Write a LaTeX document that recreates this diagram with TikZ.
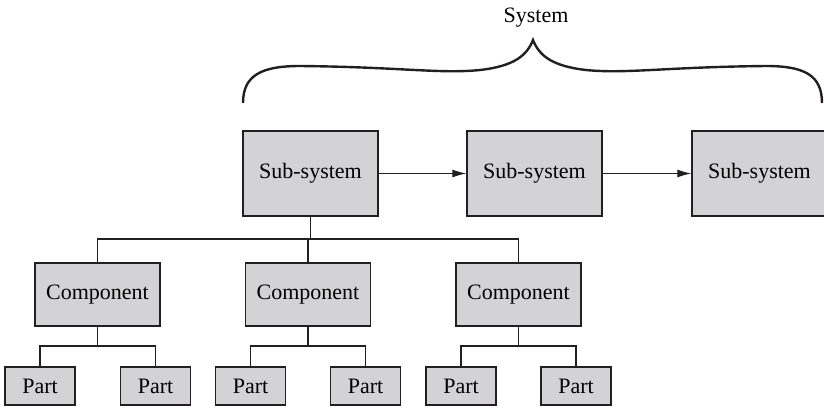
\documentclass[tikz,border=0pt]{standalone}
\usepackage{fontspec}
\setmainfont{Liberation Serif}
\usetikzlibrary{arrows.meta}
\definecolor{boxgray}{RGB}{211,211,213}
\definecolor{inkline}{RGB}{35,31,32}
\begin{document}
\begin{tikzpicture}[x=1pt,y=-1pt,
  every node/.style={font=\fontsize{22}{26}\selectfont, inner sep=0pt},
  unit/.style={draw=inkline, fill=boxgray, line width=1.3pt, rectangle},
  subsys/.style={unit, minimum width=135pt, minimum height=85pt},
  comp/.style={unit, minimum width=125pt, minimum height=63pt},
  part/.style={unit, minimum width=70pt, minimum height=38pt},
  link/.style={draw=inkline, line width=1.2pt},
  flow/.style={link, -{Latex[length=14pt,width=8pt]}}]
\useasboundingbox (0,0) rectangle (824,408);

% system level brace and label
\node (sys) at (536,18) {System};
\draw[draw=inkline, line width=2.4pt, line join=miter, miter limit=20]
  (243,103) .. controls (243,75) and (262,66) .. (300,66)
  .. controls (400,67) and (440,74) .. (480,70)
  .. controls (515,66) and (527,55) .. (533,40)
  .. controls (539,55) and (551,66) .. (586,70)
  .. controls (626,74) and (666,67) .. (766,66)
  .. controls (804,66) and (822,75) .. (822,103);

% sub-systems
\node[subsys] (s1) at (310.5,173.5) {Sub-system};
\node[subsys] (s2) at (534.5,173.5) {Sub-system};
\node[subsys] (s3) at (759.5,173.5) {Sub-system};
\draw[flow] (s1.east) -- (s2.west);
\draw[flow] (s2.east) -- (s3.west);

% components
\node[comp] (c1) at (97.5,294.5) {Component};
\node[comp] (c2) at (308,294.5) {Component};
\node[comp] (c3) at (518.5,294.5) {Component};
\coordinate (cbus) at (0,239);
\draw[link] (s1.south) -- (s1.south |- cbus);
\draw[link] (c1.north) -- (c1.north |- cbus) -| (c3.north);
\draw[link] (c2.north) -- (c2.north |- cbus);

% parts
\node[part] (p1) at (40,386) {Part};
\node[part] (p2) at (155.5,386) {Part};
\node[part] (p3) at (250.5,386) {Part};
\node[part] (p4) at (365.5,386) {Part};
\node[part] (p5) at (461,386) {Part};
\node[part] (p6) at (576,386) {Part};
\coordinate (pbus) at (0,346);
\draw[link] (c1.south) -- (c1.south |- pbus);
\draw[link] (p1.north) -- (p1.north |- pbus) -| (p2.north);
\draw[link] (c2.south) -- (c2.south |- pbus);
\draw[link] (p3.north) -- (p3.north |- pbus) -| (p4.north);
\draw[link] (c3.south) -- (c3.south |- pbus);
\draw[link] (p5.north) -- (p5.north |- pbus) -| (p6.north);
\end{tikzpicture}
\end{document}
